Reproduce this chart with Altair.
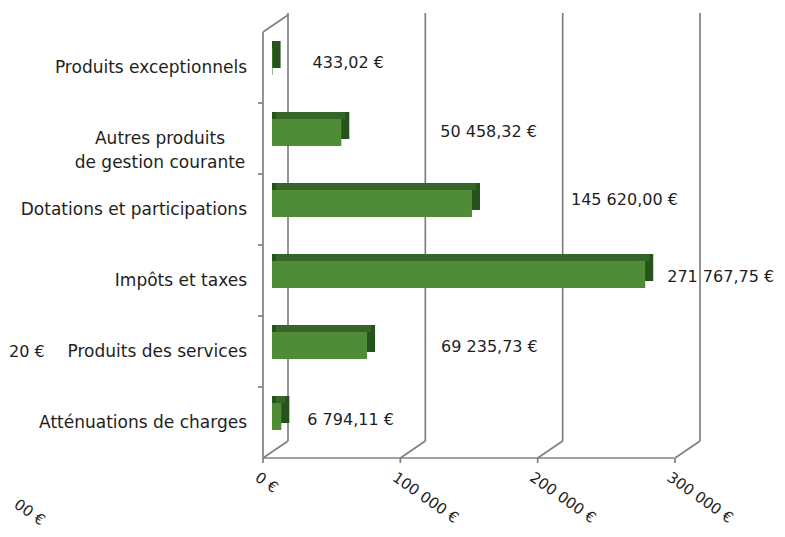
import altair as alt
import pandas as pd

# ---- data ----
categories = [
    "Produits exceptionnels",
    "Autres produits\nde gestion courante",
    "Dotations et participations",
    "Impôts et taxes",
    "Produits des services",
    "Atténuations de charges",
]
amounts = [433.02, 50458.32, 145620.00, 271767.75, 69235.73, 6794.11]
tick_values = [0, 100000, 200000, 300000]

# layout nudges for value labels (Excel 3D placement), pixels
label_nudge_x = [40, 99, 99, 22, 74, 26]
label_nudge_y = [-5, -7, -10, -4, -5, -3]


def eur(v, dec=2):
    s = f"{v:,.{dec}f}".replace(",", " ").replace(".", ",")
    return s + " €"


df = pd.DataFrame({
    "cat": categories,
    "v": amounts,
    "label": [eur(v) for v in amounts],
    "multi": ["\n" in c for c in categories],
})
ticks = pd.DataFrame({"t": tick_values, "tl": [eur(t, 0) for t in tick_values]})
one = pd.DataFrame({"k": [0]})

W, H = 440, 445
FONT = "DejaVu Sans"
FS = 17
TXT = "#1e1e1e"
GRID = "#808080"
GW = 1.7
FRONT = "#508c37"
TOP = "#366627"
SIDE = "#26521b"

xs = alt.Scale(domain=[0, 300000], range=[8, 420], nice=False, zero=False)
ys = alt.Scale(domain=categories, range=[19, 445], paddingInner=0, paddingOuter=0)


def X(f):
    return alt.X(f, scale=xs, axis=None)


def Y():
    return alt.Y("cat:N", scale=ys, sort=categories, axis=None)


# back wall grid lines
grid = alt.Chart(ticks).mark_rule(color=GRID, strokeWidth=GW, xOffset=16).encode(
    x=X("t:Q"), y=alt.value(0), y2=alt.value(428)
)
# floor diagonals
diag = alt.Chart(ticks).mark_rule(color=GRID, strokeWidth=GW, xOffset=-9, x2Offset=16).encode(
    x=X("t:Q"), x2="t:Q", y=alt.value(H), y2=alt.value(428)
)
# small ticks below floor
fticks = alt.Chart(ticks).mark_rule(color=GRID, strokeWidth=GW, xOffset=-9).encode(
    x=X("t:Q"), y=alt.value(H), y2=alt.value(H + 5)
)
# floor front edge
floor = alt.Chart(one).mark_rule(color=GRID, strokeWidth=GW, xOffset=-9, x2Offset=-10).encode(
    x=alt.X(datum=0, scale=xs, axis=None), x2=alt.X2(datum=300000), y=alt.value(H)
)
# left wall front edge and top edge
wall_front = alt.Chart(one).mark_rule(color=GRID, strokeWidth=GW, xOffset=-9).encode(
    x=alt.X(datum=0, scale=xs, axis=None), y=alt.value(19), y2=alt.value(H)
)
wall_top = alt.Chart(one).mark_rule(color=GRID, strokeWidth=GW, xOffset=-9, x2Offset=16).encode(
    x=alt.X(datum=0, scale=xs, axis=None), x2=alt.X2(datum=0), y=alt.value(19), y2=alt.value(2)
)
# category ticks on left wall
cticks = alt.Chart(df).transform_filter(
    alt.datum.cat != categories[0]
).mark_rule(color=GRID, strokeWidth=GW, xOffset=-14, x2Offset=-9).encode(
    x=alt.X(datum=0, scale=xs, axis=None), x2=alt.X2(datum=0),
    y=alt.Y("cat:N", scale=ys, sort=categories, axis=None, bandPosition=0),
)

# 3D bars: side block, top face, then front face
side = alt.Chart(df).mark_bar(color=SIDE, size=27, yOffset=-13, xOffset=8).encode(
    x=X("v:Q"), x2=alt.X2(datum=0), y=Y()
)
top = alt.Chart(df).mark_bar(color=TOP, size=7, yOffset=-23, xOffset=4, x2Offset=4).encode(
    x=X("v:Q"), x2=alt.X2(datum=0), y=Y()
)
front = alt.Chart(df).mark_bar(color=FRONT, size=27, yOffset=-6).encode(
    x=X("v:Q"), x2=alt.X2(datum=0), y=Y()
)

# value labels (one layer per row, Excel places them irregularly)
vlabels = []
for cat, ndx, ndy in zip(categories, label_nudge_x, label_nudge_y):
    vlabels.append(
        alt.Chart(df).transform_filter(alt.datum.cat == cat).mark_text(
            align="left", baseline="middle", font=FONT, fontSize=16, color=TXT,
            dx=ndx, dy=ndy,
        ).encode(x=X("v:Q"), y=Y(), text="label:N")
    )

# category labels: single-line ones right-aligned, wrapped ones centred
clabels = alt.Chart(df).transform_filter(~alt.datum.multi).mark_text(
    align="right", baseline="middle", font=FONT, fontSize=FS, color=TXT, dx=-17,
).encode(x=alt.value(0), y=Y(), text="cat:N")
clabels2 = alt.Chart(df).transform_filter(alt.datum.multi).mark_text(
    align="center", baseline="middle", font=FONT, fontSize=FS, color=TXT,
    dx=-104, lineBreak="\n", lineHeight=24,
).encode(x=alt.value(0), y=Y(), text="cat:N")

# x tick labels (rotated)
tlabels = alt.Chart(ticks).mark_text(
    align="left", baseline="top", font=FONT, fontSize=15, color=TXT, angle=35,
    xOffset=-11,
).encode(x=X("t:Q"), y=alt.value(H + 12), text="tl:N")

# fragments of the neighbouring chart visible at the left edge
frag = pd.DataFrame({"f": ["20 €"]})
frag1 = alt.Chart(frag).mark_text(
    align="left", baseline="middle", font=FONT, fontSize=16, color=TXT
).encode(x=alt.value(-255), y=alt.value(339), text="f:N")
frag2d = pd.DataFrame({"f": ["00 €"]})
frag2 = alt.Chart(frag2d).mark_text(
    align="left", baseline="top", font=FONT, fontSize=15, color=TXT, angle=35
).encode(x=alt.value(-244), y=alt.value(484), text="f:N")

chart = alt.layer(
    grid, diag, fticks, floor, wall_front, wall_top, cticks,
    side, top, front, *vlabels, clabels, clabels2, tlabels, frag1, frag2,
).properties(
    width=W, height=H,
    autosize=alt.AutoSizeParams(type="none"),
    padding={"left": 256, "top": 5, "right": 73, "bottom": 71},
).configure_view(stroke=None)

chart.save("out.html", embed_options={"renderer": "svg", "actions": False})
